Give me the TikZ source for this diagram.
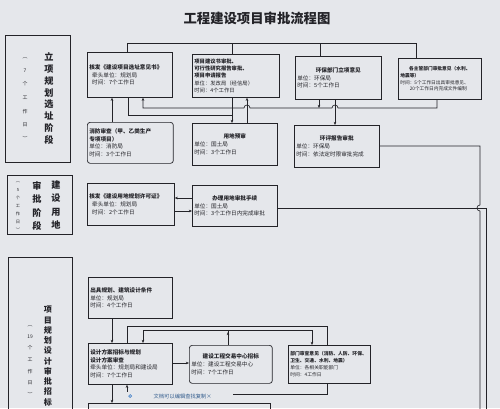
\documentclass[tikz,border=0pt]{standalone}
\usepackage{fontspec}
\setmainfont{Noto Sans CJK SC}
\usetikzlibrary{arrows.meta, positioning, calc}
\definecolor{paper}{RGB}{229,231,235}
\definecolor{ink}{RGB}{35,35,40}
\definecolor{tipblue}{RGB}{70,130,200}
\newcommand{\ctrline}[1]{\makebox[\linewidth]{\textbf{#1}}}
\tikzset{
  stepbox/.style={draw=ink, line width=1pt, anchor=north west, align=left, inner xsep=0.1cm, inner ysep=1pt, font=\fontsize{8}{11}\selectfont, text=ink},
  roundbox/.style={stepbox, rounded corners=4pt},
  wh/.style 2 args={text width=#1cm-0.2cm, minimum height=#2cm},
  phasebox/.style={draw=ink, line width=1.2pt, anchor=north west, inner sep=0pt},
  bigcol/.style={align=center, inner sep=0pt, text=ink, font=\bfseries\fontsize{13}{16.9}\selectfont},
  daycol/.style={align=center, inner sep=0pt, text=ink, font=\fontsize{7}{19.4}\selectfont},
  conn/.style={draw=ink, line width=0.9pt},
  arr/.style={conn, -{Stealth[length=4.5pt,width=3.6pt]}},
}

\begin{document}
\begin{tikzpicture}[x=0.05cm, y=-0.05cm]
  \useasboundingbox (0,0) rectangle (500,408);
  \clip (0,0) rectangle (500,408);
  \fill[paper] (0,0) rectangle (500,408);

  \node[font=\bfseries\fontsize{19}{22}\selectfont, text=ink] (title) at (257,18) {工程建设项目审批流程图};

  % phase columns
  \node[phasebox, minimum width=3.25cm, minimum height=6.35cm] (p1) at (5,35) {};
  \node[bigcol] (p1name) at (49,98.5) {立\\项\\规\\划\\选\\址\\阶\\段};
  \node[daycol] (p1days) at (25,99) {︵\\7\\个\\工\\作\\日\\︶};

  \node[phasebox, minimum width=3.25cm, minimum height=2.95cm] (p2) at (7,175) {};
  \node[bigcol, font=\bfseries\fontsize{13}{18.9}\selectfont] (p2a) at (56,205) {建\\设\\用\\地};
  \node[bigcol, font=\bfseries\fontsize{13}{18.9}\selectfont] (p2b) at (37,206) {审\\批\\阶\\段};
  \node[daycol, font=\fontsize{6}{11.6}\selectfont] (p2days) at (18,207) {︵\\5\\个\\工\\作\\日\\︶};

  \node[phasebox, minimum width=3.2cm, minimum height=9cm] (p3) at (8,257) {};
  \node[bigcol, anchor=north, font=\bfseries\fontsize{11.5}{14.6}\selectfont] (p3name) at (48,306) {项\\目\\规\\划\\设\\计\\审\\批\\招\\标};
  \node[daycol, font=\fontsize{7}{16.5}\selectfont] (p3days) at (30,361) {︵\\19\\个\\工\\作\\日\\︶};

  % row 1
  \node[stepbox, wh={4.25}{2.25}] (A) at (87,52)
    {\textbf{核发《建设项目选址意见书》}\\\hspace*{0.5em}牵头单位：规划局\\\hspace*{0.5em}时间：7个工作日};
  \node[stepbox, wh={4.35}{2.15}, font=\fontsize{7.6}{10.6}\selectfont] (B) at (192,54)
    {\textbf{项目建议书审批、}\\\textbf{可行性研究报告审批、}\\\textbf{项目申请报告}\\单位：发改局（经信局）\\时间：4个工作日};
  \node[stepbox, wh={4.3}{2.15}] (C) at (295,56)
    {\ctrline{环保部门立项意见}\\单位：环保局\\时间：5个工作日};
  \node[stepbox, wh={4.15}{2.05}, font=\fontsize{6.7}{9.5}\selectfont] (D) at (398,58)
    {\ctrline{各主管部门审批意见（水利、}\\\textbf{地震等）}\\时间：5个工作日出具审批意见、\\\hspace*{2em}20个工作日内完成文件编制};

  \node[roundbox, wh={4.3}{2.05}] (F) at (87,122)
    {\textbf{消防审查（甲、乙类生产}\\\textbf{专项项目）}\\单位：消防局\\时间：3个工作日};
  \node[stepbox, wh={4.25}{2.1}] (G) at (192,123)
    {\ctrline{用地预审}\\单位：国土局\\时间：3个工作日};
  \node[stepbox, wh={4.25}{2.1}] (H) at (294,125)
    {\ctrline{环评报告审批}\\单位：环保局\\时间：依法定时限审批完成};

  % row 2
  \node[stepbox, wh={4.35}{2.1}] (I) at (87,183)
    {\textbf{核发《建设用地规划许可证》}\\\hspace*{0.5em}牵头单位：规划局\\\hspace*{0.5em}时间：2个工作日};
  \node[stepbox, wh={4.25}{2.05}] (J) at (192,185)
    {\ctrline{办理用地审批手续}\\单位：国土局\\时间：3个工作日内完成审批};

  % row 3
  \node[stepbox, wh={4.2}{2.05}] (K) at (88,277)
    {\textbf{出具规划、建筑设计条件}\\单位：规划局\\时间：4个工作日};
  \node[stepbox, wh={4.2}{2.05}] (L) at (88,343)
    {\textbf{设计方案招标与规划}\\\textbf{设计方案审查}\\牵头单位：规划局和建设局\\时间：7个工作日};
  \node[roundbox, wh={4.15}{1.9}] (M) at (189,345)
    {\ctrline{建设工程交易中心招标}\\单位：建设工程交易中心\\时间：7个工作日};
  \node[stepbox, wh={4.1}{1.9}, font=\fontsize{6.8}{10}\selectfont] (N) at (288,345)
    {\textbf{部门审查意见（消防、人防、环保、}\\\textbf{卫生、交通、水利、地震）}\\单位：各相关职能部门\\时间：4工作日};
  \node[stepbox, wh={9.1}{1.5}] (O) at (88,403) {};

  % row 1 links
  \draw[conn] (A.north -| 127,0) -- (127,43) -| (D.north -| 416,0);
  \draw[conn] (B.north -| 232,0) -- (232,43);
  \draw[conn] (C.north -| 320,0) -- (320,43);
  \draw[arr] (D.south -| 437,0) -- (437,108) -- (338,108)
    arc[start angle=0, end angle=180, radius=1.5mm] -- (250,108)
    arc[start angle=0, end angle=180, radius=1.5mm] -- (143,108) -- (A.south -| 143,0);
  \draw[arr] (C.south -| 319,0) -- (319,108);
  \draw[arr] (B.south -| 232,0) -- (G.north -| 232,0);
  \draw[arr] (G.north -| 247,0) -- (B.south -| 247,0);
  \draw[conn] (A.south -| 128,0) |- (232,115);
  \draw[arr] (F.north -| 112,0) -- (A.south -| 112,0);
  \draw[arr] (C.south -| 335,0) -- (H.north -| 335,0);

  % right side
  \draw[conn] (H.east |- 0,146) -- (480,146) -- (480,205)
    arc[start angle=90, end angle=270, radius=1.5mm] -- (480,420);
  \draw[conn] (J.east |- 0,208) -- (486,208) -- (486,420);

  % row 2 links
  \draw[arr] (J.west |- 0,198) -- (I.east |- 0,198);
  \draw[arr] (I.east |- 0,211) -- (J.west |- 0,211);

  % row 3 links
  \draw[arr] (K.south -| 112,0) -- (L.north -| 112,0);
  \draw[conn] (L.north -| 127,0) |- (327,326) -- (N.north -| 327,0);
  \draw[conn] (M.north -| 228,0) -- (228,330) coordinate (tjoin);
  \draw[arr] (M.north -| 228,0) -- (228,332);
  \draw[arr] (tjoin) -| (L.north -| 143,0);
  \draw[arr] (tjoin) -| (N.north -| 312,0);
  \draw[arr] (L.east |- 0,363) -- (M.west |- 0,363);
  \draw[arr] (L.south -| 112,0) -- (O.north -| 112,0);
  \draw[arr] (N.south -| 327,0) |- (127,394) -- (L.south -| 127,0);

  % toast
  \node[fill=paper, text=tipblue!70!black, font=\fontsize{7.5}{8}\selectfont, inner xsep=3pt, inner ysep=1.5pt, minimum width=5.4cm] (tip) at (179,396)
    {\hspace*{1.4em}文档可以编辑查找复制\hfill ×};
  \node[draw=tipblue, circle, inner sep=1.5pt, line width=0.9pt, right=5pt of tip.west] (tipicon) {};
\end{tikzpicture}
\end{document}
